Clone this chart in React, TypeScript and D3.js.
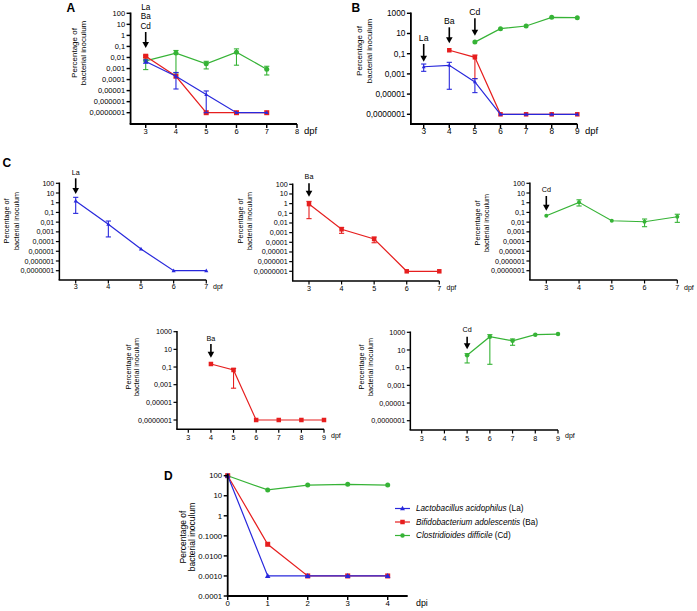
import React from 'react';
import * as d3 from 'd3';

const FONT = '"Liberation Sans", Arial, Helvetica, sans-serif';
const BLUE = '#2828dc';
const RED = '#e61e1e';
const GREEN = '#36b336';

// ---------- tick labels ----------
const LOG9_TICKS = [100, 10, 1, 0.1, 0.01, 0.001, 1e-4, 1e-5, 1e-6, 1e-7];
const LOG9_LABELS = ['100', '10', '1', '0,1', '0,01', '0,001', '0,0001', '0,00001', '0,000001', '0,0000001'];
const LOG10_TICKS = [1000, 10, 0.1, 0.001, 1e-5, 1e-7];
const LOG10_LABELS = ['1000', '10', '0,1', '0,001', '0,00001', '0,0000001'];
const D_TICKS = [100, 10, 1, 0.1, 0.01, 0.001, 0.0001];
const D_LABELS = ['100', '10', '1', '0.1000', '0.0100', '0.0010', '0.0001'];
const DPF_3_8 = [3, 4, 5, 6, 7, 8];
const DPF_3_9 = [3, 4, 5, 6, 7, 8, 9];
const DPF_3_7 = [3, 4, 5, 6, 7];
const DPI_TICKS = [0, 1, 2, 3, 4];

// ---------- Panel A (co-administration at 3 dpf) ----------
const A_DAYS = [3, 4, 5, 6, 7];
const A_LA_MEAN = [0.0044, 0.0002, 4.4e-6, 1e-7, 1e-7];
const A_LA_LOW = [0.003, 0.000014, 1e-7, 1e-7, 1e-7];
const A_LA_HIGH = [0.006, 0.00044, 9.3e-6, 1e-7, 1e-7];
const A_BA_MEAN = [0.013, 0.0002, 1e-7, 1e-7, 1e-7];
const A_BA_LOW = [0.011, 0.0002, 1e-7, 1e-7, 1e-7];
const A_BA_HIGH = [0.016, 0.0002, 1e-7, 1e-7, 1e-7];
const A_CD_MEAN = [0.005, 0.025, 0.0027, 0.03, 0.00087];
const A_CD_LOW = [0.0008, 0.0004, 0.00092, 0.002, 0.00026];
const A_CD_HIGH = [0.01, 0.043, 0.0045, 0.06, 0.0016];

// ---------- Panel B (sequential) ----------
const B_LA_DAYS = [3, 4, 5, 6, 7, 8, 9];
const B_LA_MEAN = [0.0051, 0.007, 0.00016, 1e-7, 1e-7, 1e-7, 1e-7];
const B_LA_LOW = [0.0018, 0.00003, 0.000014, 1e-7, 1e-7, 1e-7, 1e-7];
const B_LA_HIGH = [0.0095, 0.014, 0.00034, 1e-7, 1e-7, 1e-7, 1e-7];
const B_BA_DAYS = [4, 5, 6, 7, 8, 9];
const B_BA_MEAN = [0.22, 0.044, 1e-7, 1e-7, 1e-7, 1e-7];
const B_BA_LOW = [0.22, 0.00034, 1e-7, 1e-7, 1e-7, 1e-7];
const B_BA_HIGH = [0.22, 0.074, 1e-7, 1e-7, 1e-7, 1e-7];
const B_CD_DAYS = [5, 6, 7, 8, 9];
const B_CD_MEAN = [1.4, 30, 55, 400, 370];

// ---------- Panel C (single strains) ----------
const C_DAYS = [3, 4, 5, 6, 7];
const C_LA_MEAN = [1.5, 0.006, 1.7e-5, 1e-7, 1e-7];
const C_LA_LOW = [0.08, 0.0003, 1.7e-5, 1e-7, 1e-7];
const C_LA_HIGH = [3.6, 0.013, 1.7e-5, 1e-7, 1e-7];
const C_BA_MEAN = [0.9, 0.0022, 0.00022, 1e-7, 1e-7];
const C_BA_LOW = [0.028, 0.00085, 0.00009, 1e-7, 1e-7];
const C_BA_HIGH = [1.7, 0.0035, 0.00035, 1e-7, 1e-7];
const C_CD_MEAN = [0.046, 1.1, 0.014, 0.011, 0.036];
const C_CD_LOW = [0.046, 0.46, 0.014, 0.0034, 0.0095];
const C_CD_HIGH = [0.046, 2.0, 0.014, 0.021, 0.065];
const C_BA4_DAYS = [4, 5, 6, 7, 8, 9];
const C_BA4_MEAN = [0.22, 0.046, 1e-7, 1e-7, 1e-7, 1e-7];
const C_BA4_LOW = [0.22, 0.0004, 1e-7, 1e-7, 1e-7, 1e-7];
const C_BA4_HIGH = [0.22, 0.07, 1e-7, 1e-7, 1e-7, 1e-7];
const C_CD5_DAYS = [5, 6, 7, 8, 9];
const C_CD5_MEAN = [2.5, 320, 110, 540, 630];
const C_CD5_LOW = [0.34, 0.24, 34, 540, 630];
const C_CD5_HIGH = [3.8, 540, 175, 540, 630];

// ---------- Panel D (in vitro) ----------
const D_DPI = [0, 1, 2, 3, 4];
const D_LA = [100, 0.001, 0.001, 0.001, 0.001];
const D_BA = [100, 0.038, 0.001, 0.001, 0.001];
const D_CD = [100, 19.5, 34, 37, 34];
const LEGEND_NAMES = ['Lactobacillus acidophilus', 'Bifidobacterium adolescentis', 'Clostridioides difficile'];
const LEGEND_ABBR = ['(La)', '(Ba)', '(Cd)'];

type Shape = 'tri' | 'sq' | 'circ';
type Series = { days: number[]; v: number[]; lo?: number[]; hi?: number[]; color: string; shape: Shape; size: number };
type Arrow = { day: number; y1: number; y2: number; labels: string[]; labelYs: number[]; fs: number };
type PanelCfg = {
  xRef: [number, number]; xPx: [number, number];
  yRef: [number, number]; yPx: [number, number];
  xFrom: number; xTo: number; axisY: number; axisTop: number;
  yTicks: number[]; yLabels: string[]; xTicks: number[];
  tickFs: number; xLabDy: number; axisW: number; tickLen: number;
  ylab: { x1: number; x2: number; yc: number; fs: number };
  unit: { text: string; x: number; y: number; fs: number };
  arrows: Arrow[];
  series: Series[];
};

function Marker({ shape, cx, cy, s, color }: { shape: Shape; cx: number; cy: number; s: number; color: string }) {
  if (shape === 'sq') return <rect x={cx - s / 2} y={cy - s / 2} width={s} height={s} fill={color} />;
  if (shape === 'circ') return <circle cx={cx} cy={cy} r={s / 2} fill={color} />;
  const h = s;
  return <polygon points={`${cx},${cy - h * 0.6} ${cx - s * 0.55},${cy + h * 0.4} ${cx + s * 0.55},${cy + h * 0.4}`} fill={color} />;
}

function Panel({ p }: { p: PanelCfg }) {
  const x = d3.scaleLinear().domain(p.xRef).range(p.xPx);
  const y = d3.scaleLog().domain(p.yRef).range(p.yPx);
  const xs = x(p.xFrom);
  const xe = x(p.xTo);
  const line = d3.line<[number, number]>().x(d => x(d[0])).y(d => y(d[1]));
  return (
    <g fontFamily={FONT}>
      {/* series */}
      {p.series.map((s, si) => {
        const pts: [number, number][] = s.days.map((d, i) => [d, s.v[i]]);
        return (
          <g key={si}>
            <path d={line(pts) || ''} fill="none" stroke={s.color} strokeWidth={1.2} />
            {s.lo && s.hi && s.days.map((d, i) => {
              const yl = y(s.lo![i]), yh = y(s.hi![i]);
              if (Math.abs(yl - yh) < 1.5) return null;
              const cx = x(d);
              return (
                <g key={i} stroke={s.color} strokeWidth={1.1}>
                  <line x1={cx} x2={cx} y1={yl} y2={yh} />
                  <line x1={cx - 2.6} x2={cx + 2.6} y1={yl} y2={yl} />
                  <line x1={cx - 2.6} x2={cx + 2.6} y1={yh} y2={yh} />
                </g>
              );
            })}
            {s.days.map((d, i) => (
              <Marker key={i} shape={s.shape} cx={x(d)} cy={y(s.v[i])} s={s.size} color={s.color} />
            ))}
          </g>
        );
      })}
      {/* axes */}
      <line x1={xs} x2={xs} y1={p.axisTop} y2={p.axisY} stroke="#000" strokeWidth={p.axisW} />
      <line x1={xs - p.axisW / 2} x2={xe} y1={p.axisY} y2={p.axisY} stroke="#000" strokeWidth={p.axisW} />
      {p.yTicks.map((t, i) => (
        <g key={i}>
          <line x1={xs - p.tickLen} x2={xs} y1={y(t)} y2={y(t)} stroke="#000" strokeWidth={p.axisW * 0.8} />
          <text x={xs - p.tickLen - 1.5} y={y(t)} dy="0.35em" textAnchor="end" fontSize={p.tickFs}>{p.yLabels[i]}</text>
        </g>
      ))}
      {p.xTicks.map((t, i) => (
        <g key={i}>
          <line x1={x(t)} x2={x(t)} y1={p.axisY} y2={p.axisY + p.tickLen} stroke="#000" strokeWidth={p.axisW * 0.8} />
          <text x={x(t)} y={p.axisY + p.xLabDy} textAnchor="middle" fontSize={p.tickFs}>{t}</text>
        </g>
      ))}
      <text x={p.unit.x} y={p.unit.y} fontSize={p.unit.fs}>{p.unit.text}</text>
      {/* y label */}
      <g transform={`translate(${p.ylab.x1},${p.ylab.yc}) rotate(-90)`}>
        <text textAnchor="middle" dy="0.35em" fontSize={p.ylab.fs}>Percentage of</text>
      </g>
      <g transform={`translate(${p.ylab.x2},${p.ylab.yc}) rotate(-90)`}>
        <text textAnchor="middle" dy="0.35em" fontSize={p.ylab.fs}>bacterial inoculum</text>
      </g>
      {/* arrows */}
      {p.arrows.map((a, i) => {
        const ax = x(a.day);
        const hh = 6;
        return (
          <g key={i}>
            <line x1={ax} x2={ax} y1={a.y1} y2={a.y2 - hh + 1} stroke="#000" strokeWidth={1.6} />
            <polygon points={`${ax - 3.3},${a.y2 - hh} ${ax + 3.3},${a.y2 - hh} ${ax},${a.y2}`} fill="#000" />
            {a.labels.map((l, j) => (
              <text key={j} x={ax} y={a.labelYs[j]} textAnchor="middle" fontSize={a.fs}>{l}</text>
            ))}
          </g>
        );
      })}
    </g>
  );
}

const PANELS: PanelCfg[] = [
  // A
  {
    xRef: [3, 8], xPx: [145.7, 297], yRef: [1e-7, 100], yPx: [112.7, 13.3],
    xFrom: 2.5, xTo: 8, axisY: 124, axisTop: 12.5,
    yTicks: LOG9_TICKS, yLabels: LOG9_LABELS, xTicks: DPF_3_8,
    tickFs: 7.5, xLabDy: 10, axisW: 1.8, tickLen: 4,
    ylab: { x1: 74, x2: 83, yc: 53, fs: 8 },
    unit: { text: 'dpf', x: 304, y: 134, fs: 9.5 },
    arrows: [{ day: 3, y1: 32, y2: 48, labels: ['La', 'Ba', 'Cd'], labelYs: [10, 19.3, 29], fs: 8.2 }],
    series: [
      { days: A_DAYS, v: A_CD_MEAN, lo: A_CD_LOW, hi: A_CD_HIGH, color: GREEN, shape: 'circ', size: 5 },
      { days: A_DAYS, v: A_BA_MEAN, lo: A_BA_LOW, hi: A_BA_HIGH, color: RED, shape: 'sq', size: 5 },
      { days: A_DAYS, v: A_LA_MEAN, lo: A_LA_LOW, hi: A_LA_HIGH, color: BLUE, shape: 'tri', size: 3.5 },
    ],
  },
  // B
  {
    xRef: [3, 9], xPx: [423.7, 577.3], yRef: [1e-7, 1000], yPx: [114.3, 13.3],
    xFrom: 2.5, xTo: 9, axisY: 124, axisTop: 12.5,
    yTicks: LOG10_TICKS, yLabels: LOG10_LABELS, xTicks: DPF_3_9,
    tickFs: 8.3, xLabDy: 9.5, axisW: 1.8, tickLen: 4,
    ylab: { x1: 359, x2: 369, yc: 51, fs: 8 },
    unit: { text: 'dpf', x: 585, y: 134, fs: 9.5 },
    arrows: [
      { day: 3, y1: 44, y2: 61.7, labels: ['La'], labelYs: [40.7], fs: 8.7 },
      { day: 4, y1: 27.3, y2: 43.3, labels: ['Ba'], labelYs: [24], fs: 8.7 },
      { day: 5, y1: 18.3, y2: 35.7, labels: ['Cd'], labelYs: [15.3], fs: 8.7 },
    ],
    series: [
      { days: B_CD_DAYS, v: B_CD_MEAN, color: GREEN, shape: 'circ', size: 5 },
      { days: B_BA_DAYS, v: B_BA_MEAN, lo: B_BA_LOW, hi: B_BA_HIGH, color: RED, shape: 'sq', size: 4.5 },
      { days: B_LA_DAYS, v: B_LA_MEAN, lo: B_LA_LOW, hi: B_LA_HIGH, color: BLUE, shape: 'tri', size: 3.5 },
    ],
  },
  // C1 La
  {
    xRef: [3, 7], xPx: [75.7, 206.3], yRef: [1e-7, 100], yPx: [270.7, 183.3],
    xFrom: 2.5, xTo: 7, axisY: 280, axisTop: 182.5,
    yTicks: LOG9_TICKS, yLabels: LOG9_LABELS, xTicks: DPF_3_7,
    tickFs: 7.2, xLabDy: 9.3, axisW: 1.5, tickLen: 3.5,
    ylab: { x1: 6.7, x2: 16, yc: 221, fs: 7.2 },
    unit: { text: 'dpf', x: 213, y: 289, fs: 7 },
    arrows: [{ day: 3, y1: 178.3, y2: 194, labels: ['La'], labelYs: [175], fs: 7.2 }],
    series: [
      { days: C_DAYS, v: C_LA_MEAN, lo: C_LA_LOW, hi: C_LA_HIGH, color: BLUE, shape: 'tri', size: 3.8 },
    ],
  },
  // C2 Ba
  {
    xRef: [3, 7], xPx: [309, 439.3], yRef: [1e-7, 100], yPx: [271.3, 184.3],
    xFrom: 2.5, xTo: 7, axisY: 281, axisTop: 183.5,
    yTicks: LOG9_TICKS, yLabels: LOG9_LABELS, xTicks: DPF_3_7,
    tickFs: 7.2, xLabDy: 9.5, axisW: 1.5, tickLen: 3.5,
    ylab: { x1: 240, x2: 249.3, yc: 221, fs: 7.2 },
    unit: { text: 'dpf', x: 446.5, y: 289.5, fs: 7 },
    arrows: [{ day: 3, y1: 183.3, y2: 196.7, labels: ['Ba'], labelYs: [179.3], fs: 7.2 }],
    series: [
      { days: C_DAYS, v: C_BA_MEAN, lo: C_BA_LOW, hi: C_BA_HIGH, color: RED, shape: 'sq', size: 4.5 },
    ],
  },
  // C3 Cd
  {
    xRef: [3, 7], xPx: [546.3, 677.3], yRef: [1e-7, 100], yPx: [270.7, 183.3],
    xFrom: 2.5, xTo: 7, axisY: 280, axisTop: 182.5,
    yTicks: LOG9_TICKS, yLabels: LOG9_LABELS, xTicks: DPF_3_7,
    tickFs: 7.2, xLabDy: 9.5, axisW: 1.5, tickLen: 3.5,
    ylab: { x1: 477.3, x2: 486.7, yc: 223, fs: 7.2 },
    unit: { text: 'dpf', x: 684, y: 289.5, fs: 7 },
    arrows: [{ day: 3, y1: 196, y2: 210.7, labels: ['Cd'], labelYs: [192], fs: 7.2 }],
    series: [
      { days: C_DAYS, v: C_CD_MEAN, lo: C_CD_LOW, hi: C_CD_HIGH, color: GREEN, shape: 'circ', size: 4 },
    ],
  },
  // C4 Ba from 4 dpf
  {
    xRef: [3, 9], xPx: [188.3, 324], yRef: [1e-7, 1000], yPx: [420, 331.7],
    xFrom: 2.5, xTo: 9, axisY: 429.3, axisTop: 331,
    yTicks: LOG10_TICKS, yLabels: LOG10_LABELS, xTicks: DPF_3_9,
    tickFs: 7.2, xLabDy: 10.5, axisW: 1.5, tickLen: 3.5,
    ylab: { x1: 128.3, x2: 136.7, yc: 367, fs: 7.2 },
    unit: { text: 'dpf', x: 331, y: 438, fs: 7 },
    arrows: [{ day: 4, y1: 344, y2: 357.7, labels: ['Ba'], labelYs: [340.7], fs: 7.2 }],
    series: [
      { days: C_BA4_DAYS, v: C_BA4_MEAN, lo: C_BA4_LOW, hi: C_BA4_HIGH, color: RED, shape: 'sq', size: 4.5 },
    ],
  },
  // C5 Cd from 5 dpf
  {
    xRef: [3, 9], xPx: [421.7, 558], yRef: [1e-7, 1000], yPx: [420.7, 332.3],
    xFrom: 2.5, xTo: 9, axisY: 430, axisTop: 331.5,
    yTicks: LOG10_TICKS, yLabels: LOG10_LABELS, xTicks: DPF_3_9,
    tickFs: 7.2, xLabDy: 10.5, axisW: 1.5, tickLen: 3.5,
    ylab: { x1: 361, x2: 370, yc: 367, fs: 7.2 },
    unit: { text: 'dpf', x: 565, y: 438, fs: 7 },
    arrows: [{ day: 5, y1: 336.7, y2: 349.3, labels: ['Cd'], labelYs: [332], fs: 7.2 }],
    series: [
      { days: C_CD5_DAYS, v: C_CD5_MEAN, lo: C_CD5_LOW, hi: C_CD5_HIGH, color: GREEN, shape: 'circ', size: 4.5 },
    ],
  },
  // D
  {
    xRef: [0, 4], xPx: [227.7, 387.7], yRef: [0.0001, 100], yPx: [596, 475.7],
    xFrom: 0, xTo: 4.5, axisY: 596, axisTop: 474,
    yTicks: D_TICKS, yLabels: D_LABELS, xTicks: DPI_TICKS,
    tickFs: 7.8, xLabDy: 10, axisW: 1.8, tickLen: 4,
    ylab: { x1: 183.3, x2: 191.7, yc: 537, fs: 8.5 },
    unit: { text: 'dpi', x: 416, y: 606, fs: 8.8 },
    arrows: [],
    series: [
      { days: D_DPI, v: D_CD, color: GREEN, shape: 'circ', size: 5 },
      { days: D_DPI, v: D_BA, color: RED, shape: 'sq', size: 5 },
      { days: D_DPI, v: D_LA, color: BLUE, shape: 'tri', size: 5 },
    ],
  },
];

const LEGEND_STYLE: { color: string; shape: Shape }[] = [
  { color: BLUE, shape: 'tri' },
  { color: RED, shape: 'sq' },
  { color: GREEN, shape: 'circ' },
];

export default function App() {
  const legendY = [508.5, 522, 535.5];
  return (
    <svg width={697} height={611} style={{ position: 'absolute', left: 0, top: 0, background: '#fff' }}
      xmlns="http://www.w3.org/2000/svg">
      <rect width={697} height={611} fill="#fff" />
      {PANELS.map((p, i) => <Panel key={i} p={p} />)}
      <g fontFamily={FONT} fontWeight="bold" fontSize={12}>
        <text x={66.5} y={12}>A</text>
        <text x={351.5} y={11.5}>B</text>
        <text x={2.5} y={166.5}>C</text>
        <text x={164} y={479.5}>D</text>
      </g>
      <g fontFamily={FONT} fontSize={8.2}>
        {LEGEND_NAMES.map((n, i) => (
          <g key={i}>
            <line x1={395} x2={410} y1={legendY[i]} y2={legendY[i]} stroke={LEGEND_STYLE[i].color} strokeWidth={1.2} />
            <Marker shape={LEGEND_STYLE[i].shape} cx={402.5} cy={legendY[i]} s={4.5} color={LEGEND_STYLE[i].color} />
            <text x={416} y={legendY[i]} dy="0.35em">
              <tspan fontStyle="italic">{n}</tspan> {LEGEND_ABBR[i]}
            </text>
          </g>
        ))}
      </g>
    </svg>
  );
}
